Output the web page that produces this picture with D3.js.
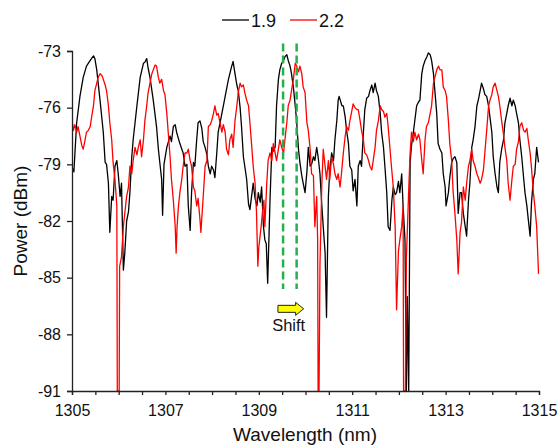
<!DOCTYPE html>
<html>
<head>
<meta charset="utf-8">
<script src="https://cdn.jsdelivr.net/npm/d3@7"></script>
<style>
  html, body { margin: 0; padding: 0; background: #fff; }
  svg { display: block; font-family: "Liberation Sans", Arial, sans-serif; }
</style>
</head>
<body>
<svg id="chart" width="560" height="445"></svg>
<script>
// ---- data ----
const seriesNames = ["1.9", "2.2"];
const seriesColors = ["#000000", "#ff0000"];
const xTicks = [1305, 1307, 1309, 1311, 1313, 1315];
const yTicks = [-73, -76, -79, -82, -85, -88, -91];

const wl19 = [1305.01,1305.04,1305.10,1305.17,1305.24,1305.31,1305.39,1305.46,1305.49,1305.53,1305.60,1305.67,1305.71,1305.74,1305.78,1305.81,1305.85,1305.88,1305.92,1305.96,1305.99,1306.03,1306.06,1306.10,1306.13,1306.17,1306.21,1306.24,1306.28,1306.31,1306.39,1306.46,1306.53,1306.56,1306.60,1306.63,1306.67,1306.74,1306.81,1306.85,1306.88,1306.92,1306.94,1306.97,1307.03,1307.10,1307.13,1307.17,1307.21,1307.24,1307.31,1307.38,1307.42,1307.46,1307.49,1307.53,1307.56,1307.60,1307.63,1307.67,1307.70,1307.74,1307.78,1307.81,1307.85,1307.89,1307.92,1307.96,1307.99,1308.03,1308.06,1308.10,1308.13,1308.21,1308.28,1308.35,1308.42,1308.45,1308.49,1308.53,1308.56,1308.60,1308.63,1308.67,1308.70,1308.74,1308.78,1308.81,1308.85,1308.88,1308.92,1308.96,1308.99,1309.03,1309.06,1309.10,1309.13,1309.16,1309.19,1309.24,1309.28,1309.31,1309.35,1309.38,1309.42,1309.45,1309.49,1309.53,1309.56,1309.60,1309.63,1309.67,1309.70,1309.74,1309.78,1309.81,1309.85,1309.88,1309.92,1309.95,1309.99,1310.03,1310.06,1310.10,1310.13,1310.17,1310.20,1310.24,1310.27,1310.31,1310.35,1310.38,1310.42,1310.45,1310.49,1310.52,1310.56,1310.60,1310.63,1310.67,1310.70,1310.72,1310.78,1310.81,1310.85,1310.88,1310.92,1310.95,1310.99,1311.02,1311.06,1311.10,1311.13,1311.17,1311.20,1311.24,1311.27,1311.31,1311.35,1311.38,1311.42,1311.45,1311.49,1311.52,1311.56,1311.60,1311.63,1311.67,1311.70,1311.74,1311.77,1311.81,1311.85,1311.88,1311.92,1311.95,1311.99,1312.02,1312.06,1312.09,1312.13,1312.16,1312.18,1312.21,1312.24,1312.27,1312.31,1312.38,1312.42,1312.45,1312.49,1312.52,1312.56,1312.60,1312.63,1312.67,1312.70,1312.74,1312.77,1312.81,1312.84,1312.88,1312.92,1312.95,1312.99,1313.01,1313.06,1313.09,1313.13,1313.16,1313.20,1313.24,1313.27,1313.31,1313.34,1313.38,1313.42,1313.45,1313.49,1313.52,1313.56,1313.59,1313.63,1313.67,1313.70,1313.74,1313.77,1313.81,1313.84,1313.88,1313.92,1313.95,1313.99,1314.02,1314.06,1314.10,1314.13,1314.16,1314.20,1314.24,1314.27,1314.31,1314.34,1314.38,1314.42,1314.45,1314.49,1314.52,1314.56,1314.59,1314.63,1314.67,1314.70,1314.74,1314.77,1314.81,1314.84,1314.88,1314.91,1314.95,1314.99];
const p19 = [-79.2,-79.4,-76.8,-75.4,-74.4,-73.8,-73.5,-73.26,-73.4,-74.0,-75.6,-77.3,-78.9,-79.0,-80.0,-82.6,-80.7,-80.9,-79.1,-78.8,-79.5,-80.7,-80.0,-84.6,-83.7,-82.0,-81.5,-80.5,-78.6,-77.7,-75.9,-74.4,-73.65,-73.6,-73.4,-73.9,-74.4,-75.6,-77.0,-78.2,-78.9,-79.8,-81.7,-79.0,-78.1,-77.5,-77.8,-77.0,-76.9,-77.3,-77.9,-78.4,-79.1,-79.0,-81.2,-82.5,-80.5,-78.9,-79.1,-77.7,-76.8,-76.7,-77.1,-77.8,-78.1,-78.5,-79.1,-79.5,-79.1,-79.3,-79.7,-78.4,-77.3,-76.3,-75.4,-74.5,-73.8,-73.55,-74.2,-74.8,-75.1,-76.0,-77.0,-78.6,-79.1,-79.8,-81.1,-81.4,-80.6,-80.0,-80.8,-81.2,-80.5,-81.0,-80.2,-82.3,-83.0,-83.2,-85.3,-80.9,-78.1,-78.3,-78.1,-75.9,-74.5,-74.0,-73.65,-73.5,-73.3,-73.2,-73.5,-73.8,-74.2,-74.9,-75.9,-76.7,-78.2,-78.9,-79.6,-80.0,-80.5,-79.4,-78.1,-79.1,-79.0,-78.6,-78.8,-78.1,-78.6,-79.5,-81.2,-82.3,-83.7,-87.1,-80.7,-79.3,-78.4,-78.8,-77.7,-76.7,-75.6,-75.4,-75.9,-75.9,-76.5,-77.2,-77.9,-79.1,-79.3,-80.4,-79.8,-81.2,-79.1,-78.8,-79.1,-77.3,-76.1,-75.5,-75.4,-75.1,-74.8,-75.2,-74.7,-75.1,-75.4,-76.3,-77.3,-78.1,-79.1,-80.5,-82.3,-82.5,-80.9,-80.2,-80.6,-80.5,-79.9,-80.5,-79.5,-81.2,-83.0,-91.0,-86.0,-91.0,-78.9,-78.0,-77.3,-75.9,-75.7,-75.6,-74.2,-73.8,-73.5,-73.3,-73.1,-73.2,-73.5,-74.2,-75.1,-76.3,-77.9,-78.2,-78.4,-79.5,-80.2,-81.2,-80.5,-79.7,-78.9,-78.7,-78.6,-78.9,-81.6,-80.5,-80.5,-81.6,-82.3,-82.8,-80.9,-80.0,-78.1,-77.7,-77.0,-75.9,-75.6,-75.1,-74.7,-75.0,-75.3,-75.4,-75.9,-76.5,-77.3,-78.6,-79.5,-80.2,-80.5,-78.9,-78.2,-77.7,-76.8,-76.3,-75.9,-75.5,-75.9,-75.6,-75.9,-76.3,-76.8,-77.7,-78.6,-79.7,-80.5,-81.2,-81.9,-82.8,-81.0,-79.8,-79.5,-78.1,-78.9];

const wl22 = [1305.00,1305.03,1305.06,1305.10,1305.13,1305.17,1305.21,1305.24,1305.28,1305.31,1305.35,1305.39,1305.42,1305.46,1305.49,1305.53,1305.56,1305.60,1305.64,1305.67,1305.71,1305.74,1305.78,1305.81,1305.85,1305.88,1305.92,1305.96,1305.97,1306.01,1306.02,1306.06,1306.10,1306.13,1306.17,1306.21,1306.24,1306.28,1306.31,1306.35,1306.39,1306.42,1306.46,1306.49,1306.53,1306.56,1306.60,1306.63,1306.67,1306.71,1306.74,1306.78,1306.81,1306.85,1306.88,1306.92,1306.96,1306.99,1307.03,1307.06,1307.10,1307.13,1307.17,1307.21,1307.23,1307.25,1307.28,1307.31,1307.35,1307.38,1307.42,1307.46,1307.49,1307.53,1307.56,1307.60,1307.63,1307.67,1307.70,1307.74,1307.76,1307.81,1307.85,1307.89,1307.92,1307.96,1307.99,1308.03,1308.06,1308.10,1308.13,1308.17,1308.21,1308.24,1308.28,1308.31,1308.35,1308.38,1308.42,1308.45,1308.49,1308.53,1308.56,1308.60,1308.63,1308.67,1308.70,1308.74,1308.78,1308.81,1308.85,1308.88,1308.92,1308.95,1308.98,1309.00,1309.05,1309.08,1309.11,1309.13,1309.17,1309.20,1309.24,1309.28,1309.31,1309.35,1309.38,1309.42,1309.45,1309.49,1309.53,1309.56,1309.60,1309.63,1309.67,1309.70,1309.74,1309.78,1309.81,1309.85,1309.88,1309.92,1309.95,1309.99,1310.03,1310.06,1310.10,1310.13,1310.17,1310.20,1310.24,1310.26,1310.27,1310.29,1310.31,1310.35,1310.38,1310.42,1310.45,1310.49,1310.52,1310.56,1310.60,1310.63,1310.67,1310.70,1310.74,1310.77,1310.81,1310.85,1310.88,1310.92,1310.95,1310.99,1311.02,1311.06,1311.10,1311.13,1311.17,1311.20,1311.24,1311.27,1311.31,1311.35,1311.38,1311.42,1311.45,1311.49,1311.52,1311.56,1311.60,1311.63,1311.67,1311.70,1311.74,1311.77,1311.81,1311.84,1311.88,1311.92,1311.95,1311.99,1312.02,1312.06,1312.09,1312.10,1312.14,1312.16,1312.21,1312.24,1312.27,1312.31,1312.34,1312.38,1312.42,1312.45,1312.49,1312.52,1312.56,1312.59,1312.63,1312.67,1312.70,1312.74,1312.77,1312.81,1312.85,1312.88,1312.92,1312.95,1312.99,1313.02,1313.06,1313.09,1313.13,1313.16,1313.20,1313.24,1313.27,1313.31,1313.34,1313.38,1313.42,1313.45,1313.49,1313.52,1313.56,1313.59,1313.63,1313.67,1313.70,1313.74,1313.77,1313.81,1313.84,1313.88,1313.92,1313.95,1313.99,1314.02,1314.06,1314.10,1314.13,1314.16,1314.20,1314.24,1314.27,1314.31,1314.34,1314.38,1314.42,1314.45,1314.49,1314.52,1314.56,1314.59,1314.63,1314.67,1314.70,1314.74,1314.77,1314.81,1314.84,1314.88,1314.91,1314.95,1314.99];
const p22 = [-76.65,-77.2,-76.9,-77.3,-77.0,-77.5,-78.0,-78.2,-77.7,-77.3,-77.2,-77.0,-76.5,-75.9,-75.1,-74.7,-74.4,-74.2,-74.3,-74.5,-74.8,-75.1,-75.9,-76.8,-77.7,-78.9,-79.8,-81.2,-91.0,-91.0,-84.4,-83.9,-82.3,-81.6,-80.7,-80.2,-79.1,-79.5,-78.8,-78.1,-78.5,-78.1,-77.7,-78.6,-77.7,-76.7,-75.9,-75.2,-74.7,-74.2,-74.0,-73.74,-73.8,-74.4,-74.7,-74.5,-75.1,-75.3,-76.3,-77.3,-78.6,-79.8,-80.9,-82.3,-83.7,-82.3,-81.2,-80.5,-79.8,-79.1,-78.4,-78.4,-78.2,-78.8,-79.1,-80.2,-80.4,-81.2,-80.8,-81.9,-82.6,-80.7,-79.1,-78.8,-77.0,-76.9,-76.7,-76.3,-75.9,-76.4,-76.3,-76.8,-77.3,-76.9,-77.3,-78.2,-78.5,-77.7,-77.4,-78.1,-76.7,-75.9,-75.2,-74.7,-74.9,-74.8,-75.2,-75.6,-75.9,-76.8,-78.1,-79.1,-80.0,-81.5,-84.4,-83.4,-82.3,-81.5,-80.9,-82.3,-80.0,-78.8,-78.4,-78.8,-77.9,-78.4,-78.8,-78.2,-77.7,-78.1,-78.4,-77.7,-76.8,-75.9,-75.6,-75.1,-74.5,-73.65,-73.8,-74.1,-73.8,-74.2,-74.9,-75.2,-76.8,-77.2,-78.2,-79.5,-79.6,-82.3,-80.7,-83.0,-91.0,-91.0,-84.3,-80.0,-78.2,-79.1,-79.8,-78.8,-79.8,-78.6,-79.0,-79.5,-79.8,-79.5,-80.2,-79.5,-78.4,-77.5,-77.0,-77.2,-76.7,-76.2,-75.8,-76.0,-76.1,-76.1,-76.7,-77.2,-77.7,-78.4,-78.5,-78.8,-79.1,-79.3,-78.8,-78.1,-77.2,-76.7,-75.9,-76.1,-76.2,-76.5,-76.3,-77.0,-78.2,-79.1,-80.2,-82.3,-86.7,-83.6,-83.0,-82.3,-81.2,-91.0,-91.0,-84.0,-80.4,-78.4,-77.3,-77.8,-77.3,-77.7,-77.4,-77.7,-78.8,-79.5,-77.7,-77.0,-76.8,-76.3,-75.9,-74.7,-74.4,-74.0,-73.8,-74.0,-74.0,-74.9,-75.1,-75.4,-76.7,-77.9,-78.8,-80.4,-81.6,-83.0,-84.8,-82.6,-82.1,-80.2,-80.9,-80.0,-79.1,-78.8,-78.2,-78.8,-79.1,-79.5,-79.7,-80.0,-79.8,-79.3,-78.4,-77.2,-75.9,-75.6,-75.3,-74.9,-74.7,-75.1,-75.4,-75.9,-76.7,-77.4,-78.1,-78.8,-80.0,-80.9,-79.8,-79.1,-79.0,-78.2,-77.8,-77.0,-76.8,-77.2,-77.3,-77.1,-77.7,-78.4,-79.2,-80.5,-81.2,-82.3,-84.8];

// annotation values (data units)
const shiftLines = [1309.52, 1309.81];
const shiftLineRange = [-72.6, -85.6];
const arrowSpan = [1309.41, 1309.96];
const arrowLevel = -86.65;
const shiftLabel = "Shift";
const shiftLabelPos = [1309.64, -87.5];

// ---- chart ----
const svg = d3.select("#chart");
const x = d3.scaleLinear().domain([1305, 1315]).range([72, 539]);
const y = d3.scaleLinear().domain([-91, -73]).range([391, 51]);

const defs = svg.append("defs");
defs.append("clipPath").attr("id", "plotclip")
  .append("rect").attr("x", 72).attr("y", 40).attr("width", 470).attr("height", 351);

const line = d3.line().x(d => x(d[0])).y(d => y(d[1]));
const data19 = wl19.map((w, i) => [w, p19[i]]);
const data22 = wl22.map((w, i) => [w, p22[i]]);

const plot = svg.append("g").attr("clip-path", "url(#plotclip)");
plot.append("path").datum(data19).attr("d", line)
  .attr("fill", "none").attr("stroke", seriesColors[0]).attr("stroke-width", 1.3)
  .attr("stroke-linejoin", "round");
plot.append("path").datum(data22).attr("d", line)
  .attr("fill", "none").attr("stroke", seriesColors[1]).attr("stroke-width", 1.3)
  .attr("stroke-linejoin", "round");

// green dashed lines
svg.selectAll("line.shift").data(shiftLines).enter().append("line")
  .attr("class", "shift")
  .attr("x1", d => x(d)).attr("x2", d => x(d))
  .attr("y1", y(shiftLineRange[0])).attr("y2", y(shiftLineRange[1]))
  .attr("stroke", "#22b14c").attr("stroke-width", 2.5)
  .attr("stroke-dasharray", "8,4");

// arrow
const ax0 = x(arrowSpan[0]), ax1 = x(arrowSpan[1]), ay = y(arrowLevel);
const headW = 8;
svg.append("path")
  .attr("d", `M${ax0},${ay-3.5} L${ax1-headW},${ay-3.5} L${ax1-headW},${ay-6.5} L${ax1},${ay} L${ax1-headW},${ay+6.5} L${ax1-headW},${ay+3.5} L${ax0},${ay+3.5} Z`)
  .attr("fill", "#ffff00").attr("stroke", "#222").attr("stroke-width", 1);
svg.append("text").attr("x", x(shiftLabelPos[0])).attr("y", y(shiftLabelPos[1]) + 6)
  .attr("text-anchor", "middle").attr("font-size", 16.5).attr("fill", "#111").text(shiftLabel);

// axes
const xAxis = d3.axisBottom(x).tickValues(d3.range(1305, 1315.01, 0.5))
  .tickSize(4).tickFormat(d => xTicks.includes(d) ? String(d) : "");
const gx = svg.append("g").attr("transform", "translate(0,391)").call(xAxis);
gx.select(".domain").attr("stroke", "#222").attr("stroke-width", 1.3);
gx.selectAll(".tick line").attr("stroke", "#222").attr("stroke-width", 1.3);
gx.selectAll(".tick text").attr("font-size", 16).attr("fill", "#111")
  .attr("font-family", "Liberation Sans, Arial, sans-serif").attr("dy", "1.15em");

const yAxis = d3.axisLeft(y).tickValues(yTicks).tickSize(5).tickPadding(6)
  .tickFormat(d => String(d));
const gy = svg.append("g").attr("transform", "translate(72,0)").call(yAxis);
gy.select(".domain").attr("stroke", "#222").attr("stroke-width", 1.3);
gy.selectAll(".tick line").attr("stroke", "#222").attr("stroke-width", 1.3);
gy.selectAll(".tick text").attr("font-size", 16).attr("fill", "#111")
  .attr("font-family", "Liberation Sans, Arial, sans-serif");

// axis titles
svg.append("text").attr("x", 305).attr("y", 441).attr("text-anchor", "middle")
  .attr("font-size", 19).attr("fill", "#111").text("Wavelength (nm)");
svg.append("text").attr("transform", "translate(27,221) rotate(-90)")
  .attr("text-anchor", "middle").attr("font-size", 19).attr("fill", "#111").text("Power (dBm)");

// legend
const legendX = [222, 290];
const lg = svg.append("g");
seriesNames.forEach((name, i) => {
  lg.append("line").attr("x1", legendX[i]).attr("x2", legendX[i] + 27)
    .attr("y1", 20).attr("y2", 20).attr("stroke", seriesColors[i]).attr("stroke-width", 1.3);
  lg.append("text").attr("x", legendX[i] + 29).attr("y", 26.5)
    .attr("font-size", 18).attr("fill", "#111").text(name);
});
</script>
</body>
</html>
